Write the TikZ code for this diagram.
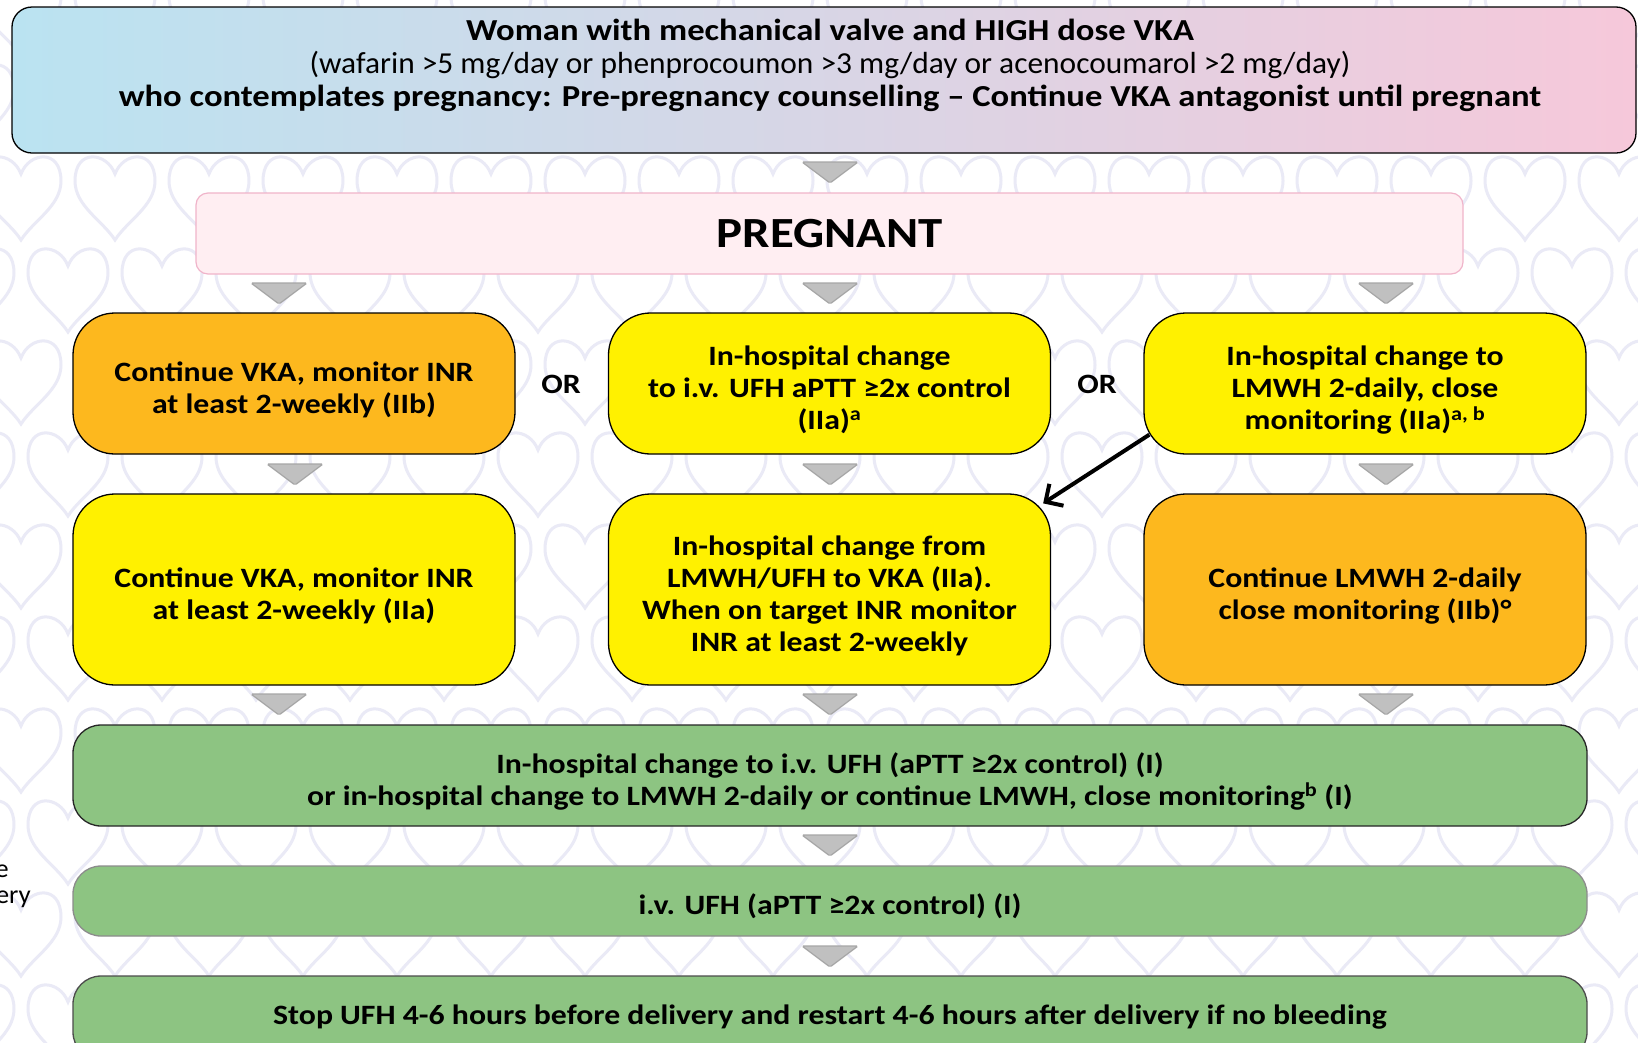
\documentclass[tikz,border=0pt]{standalone}
\usepackage{fontspec}
\setmainfont{Carlito}[FakeStretch=1.03, BoldFeatures={FakeStretch=1.135}]
\usetikzlibrary{arrows.meta}
\definecolor{topL}{HTML}{BAE3F1}
\definecolor{topR}{HTML}{F6C8DA}
\definecolor{pregfill}{HTML}{FFEEF2}
\definecolor{pregdraw}{HTML}{F0B4CA}
\definecolor{orangebox}{HTML}{FDB81E}
\definecolor{yellowbox}{HTML}{FFF100}
\definecolor{greenbox}{HTML}{8DC482}
\definecolor{trifill}{HTML}{C0C0C0}
\definecolor{tridraw}{HTML}{A6A6A6}
\definecolor{heartcol}{HTML}{EAEAF6}
\newcommand\bxt[2][-7.5pt]{\raisebox{#1}[\height][\depth]{\begin{tabular}{@{}c@{}}#2\end{tabular}}}
\tikzset{
  txt/.style={font=\fontsize{28}{32}\selectfont\bfseries, align=center},
  rowbox/.style={txt, draw=black, line width=1.3, rounded corners=42, minimum width=442, minimum height=141, inner sep=0},
  tallbox/.style={rowbox, minimum height=191},
  greenstep/.style={txt, fill=greenbox, draw=black!85, line width=1.3, rounded corners=28, minimum width=1514, inner sep=0},
  tri/.style={fill=trifill, draw=tridraw, line width=1.2, rounded corners=1.5},
  heart/.style={draw=heartcol, line width=3},
  ortext/.style={txt},
  sidetext/.style={anchor=east, inner sep=0, font=\fontsize{26}{28}\selectfont},
}
\newcommand\downtri[2]{\filldraw[tri] (#1-28,#2) -- (#1+28,#2) -- (#1,#2+21) -- cycle;}
\begin{document}
\begin{tikzpicture}[x=1pt,y=-1pt]
\clip (0,0) rectangle (1638,1042);
\fill[white] (0,0) rectangle (1638,1042);
% background hearts
\foreach \j in {0,...,12}{
  \foreach \i in {-1,...,17}{
    \pgfmathsetmacro\hx{21+94*\i+47*mod(\j,2)}
    \pgfmathsetmacro\hy{12+92*\j}
    \begin{scope}[shift={(\hx,\hy)}]
      \draw[heart] (0,-22) .. controls (8,-44) and (40,-48) .. (40,-15)
        .. controls (40,10) and (12,25) .. (0,44)
        .. controls (-12,25) and (-40,10) .. (-40,-15)
        .. controls (-40,-48) and (-8,-44) .. (0,-22) -- cycle;
    \end{scope}
  }
}
% top box
\node[draw=black, line width=1.3, rounded corners=20, left color=topL, right color=topR,
      minimum width=1624, minimum height=146, inner sep=0] (top) at (824,80) {};
\node[align=center, inner sep=0, font=\fontsize{30.5}{33}\selectfont] (toptext) at (830,65)
  {\textbf{Woman with mechanical valve and HIGH dose VKA}\\
   (wafarin >5 mg/day or phenprocoumon >3 mg/day or acenocoumarol >2 mg/day)\\
   \textbf{who contemplates pregnancy: Pre-pregnancy counselling – Continue VKA antagonist until pregnant}};
% pregnant
\node[fill=pregfill, draw=pregdraw, line width=1.2, rounded corners=12, minimum width=1267,
      minimum height=81, inner sep=0, font=\fontsize{43}{48}\selectfont\bfseries] (preg) at (829.5,233.5) {PREGNANT};
% row 1
\node[rowbox, fill=orangebox] (A) at (294,383.5) {\bxt{Continue VKA, monitor INR\\at least 2-weekly (IIb)}};
\node[rowbox, fill=yellowbox] (B) at (829.5,383.5) {\bxt{In-hospital change\\to i.v. UFH aPTT ≥2x control\\(IIa)\textsuperscript{a}}};
\node[rowbox, fill=yellowbox] (C) at (1365,383.5) {\bxt{In-hospital change to\\LMWH 2-daily, close\\monitoring (IIa)\textsuperscript{a, b}}};
\node[ortext] (or1) at (561,384) {OR};
\node[ortext] (or2) at (1097,384) {OR};
% row 2
\node[tallbox, fill=yellowbox] (D) at (294,589.5) {\bxt{Continue VKA, monitor INR\\at least 2-weekly (IIa)}};
\node[tallbox, fill=yellowbox] (E) at (829.5,589.5) {\bxt{In-hospital change from\\LMWH/UFH to VKA (IIa).\\When on target INR monitor\\INR at least 2-weekly}};
\node[tallbox, fill=orangebox] (F) at (1365,589.5) {\bxt{Continue LMWH 2-daily\\close monitoring (IIb)°}};
% green steps
\node[greenstep, minimum height=101] (G1) at (830,775.5) {\bxt{In-hospital change to i.v. UFH (aPTT ≥2x control) (I)\\or in-hospital change to LMWH 2-daily or continue LMWH, close monitoring\textsuperscript{b} (I)}};
\node[greenstep, minimum height=70, draw=black!45] (G2) at (830,901) {\bxt{i.v. UFH (aPTT ≥2x control) (I)}};
\node[greenstep, minimum height=84, draw=black!70] (G3) at (830,1018) {\bxt[0pt]{Stop UFH 4-6 hours before delivery and restart 4-6 hours after delivery if no bleeding}};
% partial side texts
\node[sidetext] (side1) at (9,871) {e};
\node[sidetext] (side2) at (31,899) {ery};
% arrow
\coordinate (arrS) at ([shift={(6,-20)}]C.south west);
\coordinate (arrE) at ([shift={(-8,10)}]E.north east);
\draw[line width=4, -{Straight Barb[length=13pt, width=26pt]}] (arrS) -- (arrE);
% triangles
\downtri{830}{162}
\downtri{279}{283}\downtri{830}{283}\downtri{1386}{283}
\downtri{295}{464}\downtri{830}{464}\downtri{1386}{464}
\downtri{279}{694}\downtri{830}{694}\downtri{1386}{694}
\downtri{830}{835}
\downtri{830}{946}
\end{tikzpicture}
\end{document}
